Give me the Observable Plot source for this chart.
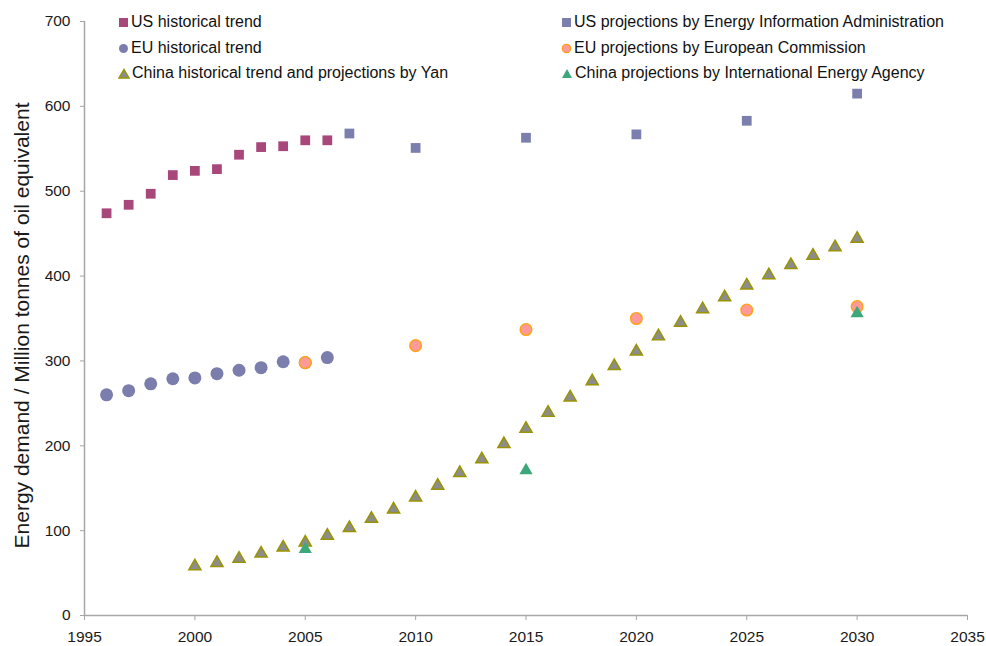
<!DOCTYPE html>
<html>
<head>
<meta charset="utf-8">
<script src="https://cdn.jsdelivr.net/npm/d3@7"></script>
<script src="https://cdn.jsdelivr.net/npm/@observablehq/plot@0.6"></script>
<style>
  html, body { margin: 0; padding: 0; background: #fff; }
  #wrap { position: relative; width: 986px; height: 646px; font-family: "Liberation Sans", Arial, sans-serif; }
  #legend { position: absolute; left: 0; top: 0; width: 986px; height: 90px; pointer-events: none; }
  .item { position: absolute; display: flex; align-items: center; font-size: 16px; color: #111; white-space: nowrap; }
  .item svg { margin-right: 2px; }
</style>
</head>
<body>
<div id="wrap"><div id="chart"></div><div id="legend"></div></div>
<script>
// ---- Data ----
const usHistYears = [1996,1997,1998,1999,2000,2001,2002,2003,2004,2005,2006];
const usHistValues = [474,484,497,519,524,526,543,552,553,560,560];

const usProjYears = [2007,2010,2015,2020,2025,2030];
const usProjValues = [568,551,563,567,583,615];

const euHistYears = [1996,1997,1998,1999,2000,2001,2002,2003,2004,2005,2006];
const euHistValues = [260,265,273,279,280,285,289,292,299,298,304];

const euProjYears = [2005,2010,2015,2020,2025,2030];
const euProjValues = [298,318,337,350,360,364];

const chinaYanYears = [2000,2001,2002,2003,2004,2005,2006,2007,2008,2009,2010,2011,2012,2013,2014,2015,2016,2017,2018,2019,2020,2021,2022,2023,2024,2025,2026,2027,2028,2029,2030];
const chinaYanValues = [58,62,67,73,80,86,94,103,114,125,139,153,168,184,202,220,239,257,276,294,311,329,345,361,375,389,401,413,424,434,444];

const chinaIeaYears = [2005,2015,2030];
const chinaIeaValues = [78,171,356];

const xTicks = [1995,2000,2005,2010,2015,2020,2025,2030,2035];
const yTicks = [0,100,200,300,400,500,600,700];

const seriesNames = [
  "US historical trend",
  "EU historical trend",
  "China historical trend and projections by Yan",
  "US projections by Energy Information Administration",
  "EU projections by European Commission",
  "China projections by International Energy Agency"
];
const yLabel = "Energy demand / Million tonnes of oil equivalent";

// ---- Styles ----
const C = {
  usHist: "#a8477a",
  usProj: "#7b7fae",
  euHist: "#7b7eac",
  euProjFill: "#ff9a99",
  euProjStroke: "#ffa31a",
  yanFill: "#8c8c8c",
  yanStroke: "#9a9400",
  iea: "#3da77c",
  axis: "#a6a6a6",
  text: "#1a1a1a"
};

const toRows = (xs, ys) => xs.map((x, i) => ({x, y: ys[i]}));

const chart = Plot.plot({
  width: 986,
  height: 646,
  marginLeft: 84,
  marginRight: 19,
  marginTop: 21,
  marginBottom: 31,
  style: { fontFamily: '"Liberation Sans", Arial, sans-serif', background: "#fff" },
  x: { domain: [1995, 2035] },
  y: { domain: [0, 700] },
  marks: [
    Plot.ruleX([1995], { stroke: C.axis, strokeWidth: 1.5 }),
    Plot.ruleY([0], { stroke: C.axis, strokeWidth: 1.5 }),
    Plot.axisX({ ticks: xTicks, tickFormat: d => String(d), tickSize: 5, tickPadding: 10, stroke: C.axis, color: C.text, fontSize: 15.5, label: null }),
    Plot.axisY({ ticks: yTicks, tickFormat: d => String(d), tickSize: 4, tickPadding: 10, stroke: C.axis, color: C.text, fontSize: 15.5, label: null }),
    Plot.dot(toRows(usHistYears, usHistValues), { x: "x", y: "y", symbol: "square", r: 5.5, fill: C.usHist, stroke: "none" }),
    Plot.dot(toRows(usProjYears, usProjValues), { x: "x", y: "y", symbol: "square", r: 5.5, fill: C.usProj, stroke: "none" }),
    Plot.dot(toRows(euHistYears, euHistValues), { x: "x", y: "y", symbol: "circle", r: 6.5, fill: C.euHist, stroke: "none" }),
    Plot.dot(toRows(euProjYears, euProjValues), { x: "x", y: "y", symbol: "circle", r: 5.8, fill: C.euProjFill, stroke: C.euProjStroke, strokeWidth: 1.5 }),
    Plot.dot(toRows(chinaYanYears, chinaYanValues), { x: "x", y: "y", symbol: "triangle", r: 4.5, fill: C.yanFill, stroke: C.yanStroke, strokeWidth: 1.5 }),
    Plot.dot(toRows(chinaIeaYears, chinaIeaValues), { x: "x", y: "y", symbol: "triangle", r: 4.9, fill: C.iea, stroke: "none" }),
    Plot.text([yLabel], { frameAnchor: "left", textAnchor: "middle", lineAnchor: "middle", dx: -62, dy: 7, rotate: -90, fontSize: 21, fill: C.text, text: d => d })
  ]
});
document.getElementById("chart").appendChild(chart);

// ---- Legend (HTML overlay) ----
const legendSymbols = [
  `<svg width="11" height="11"><rect x="1" y="1" width="9" height="9" fill="${C.usHist}"/></svg>`,
  `<svg width="11" height="11"><circle cx="5.5" cy="5.5" r="4.5" fill="${C.euHist}"/></svg>`,
  `<svg width="12" height="11"><path d="M6,1.5 L11,10 L1,10 Z" fill="${C.yanFill}" stroke="${C.yanStroke}" stroke-width="1.4"/></svg>`,
  `<svg width="11" height="11"><rect x="1" y="1" width="9" height="9" fill="${C.usProj}"/></svg>`,
  `<svg width="11" height="11"><circle cx="5.5" cy="5.5" r="4.2" fill="${C.euProjFill}" stroke="${C.euProjStroke}" stroke-width="1.3"/></svg>`,
  `<svg width="12" height="11"><path d="M6,1 L11,10 L1,10 Z" fill="${C.iea}"/></svg>`
];
const legendPos = [
  [118, 13], [118, 39], [118, 64],
  [561, 13], [561, 39], [561, 64]
];
const legend = document.getElementById("legend");
seriesNames.forEach((name, i) => {
  const div = document.createElement("div");
  div.className = "item";
  div.style.left = legendPos[i][0] + "px";
  div.style.top = legendPos[i][1] + "px";
  div.innerHTML = legendSymbols[i] + `<span>${name}</span>`;
  legend.appendChild(div);
});
</script>
</body>
</html>
